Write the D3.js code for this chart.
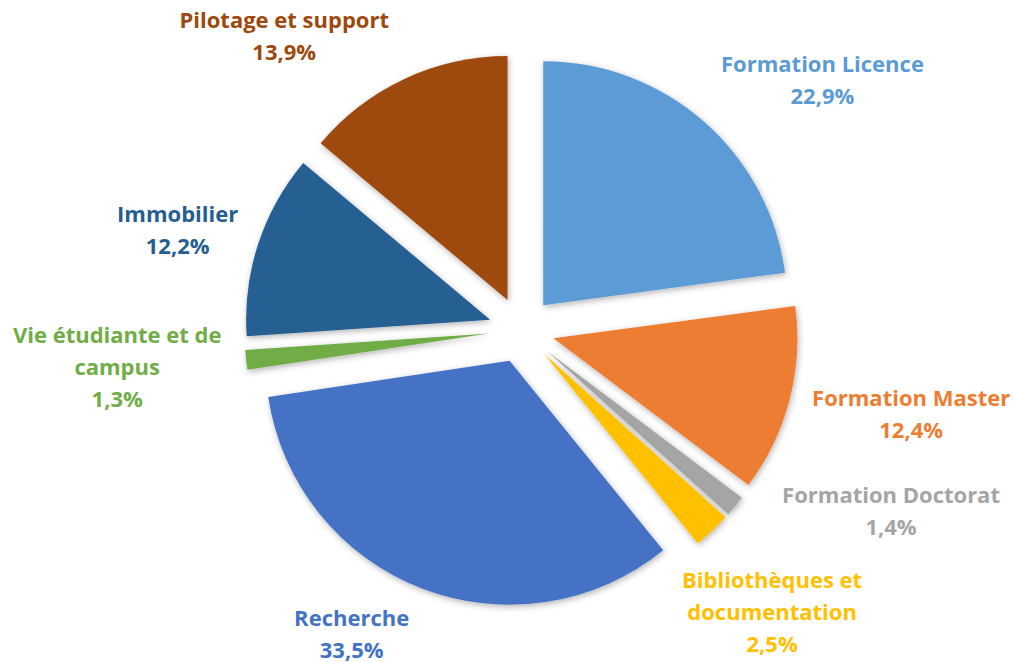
<!DOCTYPE html>
<html>
<head>
<meta charset="utf-8">
<script src="https://cdn.jsdelivr.net/npm/d3@7"></script>
<style>
  html, body { margin: 0; padding: 0; background: #fff; }
  svg { display: block; }
  text { font-family: "Open Sans", "Lato", sans-serif; font-weight: 700; }
</style>
</head>
<body>
<svg id="chart"></svg>
<script>
// values, clockwise from 12 o'clock
const categories = [
  "Formation Licence", "Formation Master", "Formation Doctorat",
  "Bibliothèques et documentation", "Recherche",
  "Vie étudiante et de campus", "Immobilier", "Pilotage et support"
];
const shares = [22.9, 12.4, 1.4, 2.5, 33.5, 1.3, 12.2, 13.9];
const valueLabels = ["22,9%", "12,4%", "1,4%", "2,5%", "33,5%", "1,3%", "12,2%", "13,9%"];
const labelLines = [
  ["Formation Licence"], ["Formation Master"], ["Formation Doctorat"],
  ["Bibliothèques et", "documentation"], ["Recherche"],
  ["Vie étudiante et de", "campus"], ["Immobilier"], ["Pilotage et support"]
];
const colors = ["#5B9BD5", "#ED7D31", "#A5A5A5", "#FFC000", "#4472C4", "#70AD47", "#255E91", "#9E480E"];

// label nudges away from the outside anchor of each slice
const labelNudge = [[112, -34], [112, 12], [148, -1], [53, 74], [-66, 37], [-119, 6], [-71, -10], [-116, -33]];

const W = 1015, H = 662;
const cx = 521.5, cy = 330;
const radius = 244;
const explode = 33;
const lineH = 32;

const svg = d3.select("#chart").attr("width", W).attr("height", H);

const defs = svg.append("defs");
const shadow = defs.append("filter").attr("id", "shadow")
  .attr("x", "-20%").attr("y", "-20%").attr("width", "140%").attr("height", "140%");
shadow.append("feDropShadow")
  .attr("dx", 1).attr("dy", 2).attr("stdDeviation", 3)
  .attr("flood-color", "#000").attr("flood-opacity", 0.3);

const g = svg.append("g").attr("transform", `translate(${cx}, ${cy})`);

const pie = d3.pie().sort(null).value(d => d);
const arcs = pie(shares);

const arc = d3.arc().innerRadius(0).outerRadius(radius);
const anchorArc = d3.arc().innerRadius(radius + explode + 10).outerRadius(radius + explode + 10);

function dir(d) {
  const a = (d.startAngle + d.endAngle) / 2;
  return [Math.sin(a), -Math.cos(a)];
}

g.selectAll("path.slice")
  .data(arcs)
  .join("path")
  .attr("class", "slice")
  .attr("d", arc)
  .attr("fill", (d, i) => colors[i])
  .attr("filter", "url(#shadow)")
  .attr("transform", d => {
    const [ux, uy] = dir(d);
    return `translate(${ux * explode}, ${uy * explode})`;
  });

const labels = g.selectAll("text.label")
  .data(arcs)
  .join("text")
  .attr("class", "label")
  .attr("text-anchor", "middle")
  .attr("font-size", "22px")
  .attr("fill", (d, i) => colors[i])
  .each(function (d, i) {
    const [ax, ay] = anchorArc.centroid(d);
    const x = ax + labelNudge[i][0];
    const lines = labelLines[i].concat([valueLabels[i]]);
    const yCenter = ay + labelNudge[i][1];
    const y0 = yCenter - (lines.length - 1) * lineH / 2 + 7.5;
    d3.select(this).selectAll("tspan")
      .data(lines)
      .join("tspan")
      .attr("x", x)
      .attr("y", (t, j) => y0 + j * lineH)
      .text(t => t);
  });
</script>
</body>
</html>
